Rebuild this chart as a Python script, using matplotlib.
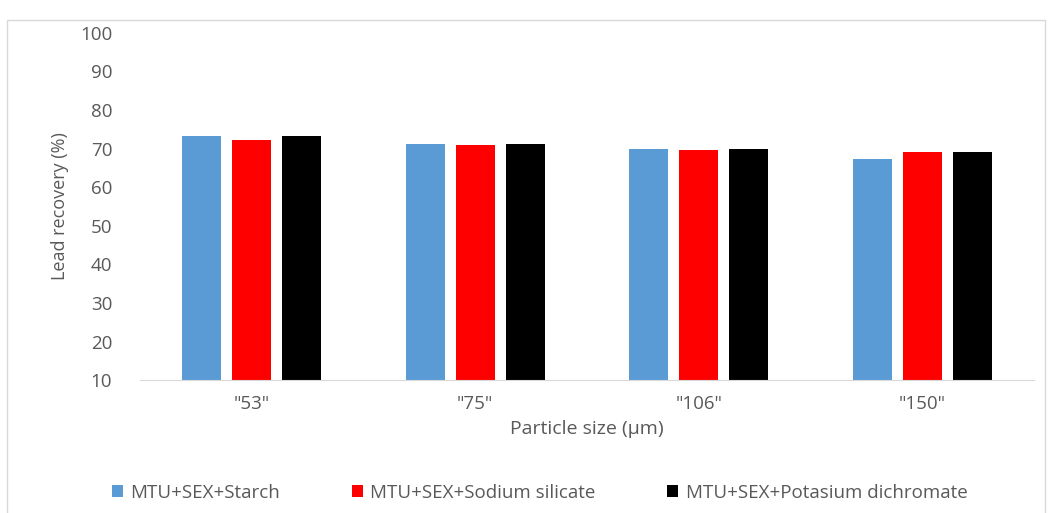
import numpy as np
import matplotlib.pyplot as plt
from matplotlib.patches import Rectangle

sizes = ['"53"', '"75"', '"106"', '"150"']
starch = [73.3, 71.2, 69.9, 67.2]
silicate = [72.2, 70.9, 69.6, 69.1]
dichromate = [73.3, 71.2, 69.9, 69.1]

series = [
    ('MTU+SEX+Starch', starch, '#5b9bd5'),
    ('MTU+SEX+Sodium silicate', silicate, '#ff0000'),
    ('MTU+SEX+Potasium dichromate', dichromate, '#000000'),
]

plt.rcParams['font.family'] = ['Open Sans', 'DejaVu Sans']
txt = '#595959'

fig = plt.figure(figsize=(10.52, 5.13), dpi=100)
ax = fig.add_axes([0.133, 0.259, 0.850, 0.677])

x = np.arange(len(sizes))
w = 0.175
step = 0.224
for i, (name, vals, col) in enumerate(series):
    ax.bar(x + (i - 1) * step, vals, w, color=col, label=name)

ax.set_ylim(10, 100)
ax.set_xlim(-0.5, len(sizes) - 0.5)
ax.set_yticks(np.arange(10, 101, 10))
ax.set_xticks(x)
ax.set_xticklabels(sizes)
ax.tick_params(length=0, colors=txt, labelsize=13.5, pad=11)
ax.tick_params(axis='y', pad=20)
for s in ['top', 'right', 'left']:
    ax.spines[s].set_visible(False)
ax.spines['bottom'].set_color('#d9d9d9')
ax.set_ylabel('Lead recovery (%)', color=txt, fontsize=13, labelpad=8)
ax.set_xlabel('Particle size (µm)', color=txt, fontsize=14, labelpad=5)

leg = ax.legend(loc='center', bbox_to_anchor=(0.447, -0.325), ncol=3, frameon=False,
                fontsize=13.5, handlelength=0.6, handleheight=0.6, columnspacing=3.8,
                handletextpad=0.4)
for t in leg.get_texts():
    t.set_color(txt)

fig.patches.append(Rectangle((7 / 1052, -0.05), 1038 / 1052, 1.03 - 10 / 513, transform=fig.transFigure,
                             fill=False, edgecolor='#d9d9d9', linewidth=1))

fig.savefig('out.png', dpi=100)
